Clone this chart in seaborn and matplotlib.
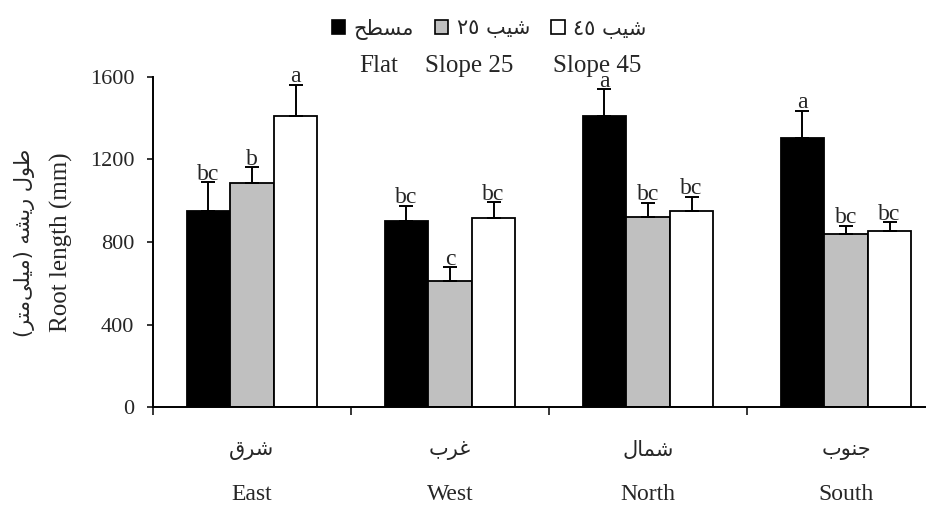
import re
import pandas as pd
import seaborn as sns
import matplotlib
matplotlib.use("Agg")
import matplotlib.pyplot as plt
from matplotlib.patches import Patch

# ---- data ----
directions_ar = ["شرق", "غرب", "شمال", "جنوب"]
directions_en = ["East", "West", "North", "South"]
treatments_ar = ["مسطح", "شیب ٢٥", "شیب ٤٥"]
treatments_en = ["Flat", "Slope 25", "Slope 45"]

flat_mean = [952, 903, 1411, 1306]
slope25_mean = [1088, 612, 923, 839]
slope45_mean = [1412, 916, 950, 853]
flat_err = [137, 72, 129, 128]
slope25_err = [74, 65, 67, 40]
slope45_err = [149, 76, 68, 42]
flat_letters = ["bc", "bc", "a", "a"]
slope25_letters = ["b", "c", "bc", "bc"]
slope45_letters = ["a", "bc", "bc", "bc"]

yticks = [0, 400, 800, 1200, 1600]
colors = ["#000000", "#C0C0C0", "#FFFFFF"]

# ---- minimal Arabic shaping (matplotlib has no bidi / joining) ----
AR_FORMS = {
    "ا": ("\uFE8D", "\uFE8E", None, None),
    "ب": ("\uFE8F", "\uFE90", "\uFE91", "\uFE92"),
    "ت": ("\uFE95", "\uFE96", "\uFE97", "\uFE98"),
    "ج": ("\uFE9D", "\uFE9E", "\uFE9F", "\uFEA0"),
    "ح": ("\uFEA1", "\uFEA2", "\uFEA3", "\uFEA4"),
    "ر": ("\uFEAD", "\uFEAE", None, None),
    "س": ("\uFEB1", "\uFEB2", "\uFEB3", "\uFEB4"),
    "ش": ("\uFEB5", "\uFEB6", "\uFEB7", "\uFEB8"),
    "ط": ("\uFEC1", "\uFEC2", "\uFEC3", "\uFEC4"),
    "غ": ("\uFECD", "\uFECE", "\uFECF", "\uFED0"),
    "ق": ("\uFED5", "\uFED6", "\uFED7", "\uFED8"),
    "ل": ("\uFEDD", "\uFEDE", "\uFEDF", "\uFEE0"),
    "م": ("\uFEE1", "\uFEE2", "\uFEE3", "\uFEE4"),
    "ن": ("\uFEE5", "\uFEE6", "\uFEE7", "\uFEE8"),
    "ه": ("\uFEE9", "\uFEEA", "\uFEEB", "\uFEEC"),
    "و": ("\uFEED", "\uFEEE", None, None),
    "ی": ("\uFBFC", "\uFBFD", "\uFBFE", "\uFBFF"),
}


def shape_ar(text):
    out = []
    for i, ch in enumerate(text):
        if ch not in AR_FORMS:
            if ch != "\u200c":
                out.append(ch)
            continue
        forms = AR_FORMS[ch]
        prev = text[i - 1] if i > 0 else ""
        nxt = text[i + 1] if i < len(text) - 1 else ""
        join_prev = prev in AR_FORMS and AR_FORMS[prev][2] is not None
        join_next = forms[2] is not None and nxt in AR_FORMS
        if join_prev and join_next:
            out.append(forms[3])
        elif join_prev:
            out.append(forms[1])
        elif join_next:
            out.append(forms[2])
        else:
            out.append(forms[0])
    vis = "".join(out)[::-1]
    vis = re.sub(r"[0-9\u0660-\u0669\u06F0-\u06F9]+", lambda m: m.group(0)[::-1], vis)
    return vis.translate(str.maketrans("()", ")("))


# ---- long table for seaborn ----
means = [flat_mean, slope25_mean, slope45_mean]
errs = [flat_err, slope25_err, slope45_err]
letters = [flat_letters, slope25_letters, slope45_letters]
rows = []
for t, vals in zip(treatments_en, means):
    for d, v in zip(directions_en, vals):
        rows.append({"direction": d, "treatment": t, "value": v})
df = pd.DataFrame(rows)

sns.set_style("white")
plt.rcParams["font.family"] = ["Liberation Serif", "DejaVu Sans"]
AR_FONT = "DejaVu Sans"

fig = plt.figure(figsize=(9.26, 5.07), dpi=100)
ax = fig.add_axes([153 / 926, 100 / 507, 792 / 926, 330 / 507])

sns.barplot(data=df, x="direction", y="value", hue="treatment",
            order=directions_en, hue_order=treatments_en, palette=colors,
            saturation=1, width=0.66, edgecolor="black", linewidth=1.3,
            errorbar=None, legend=False, ax=ax)

# one-sided error bars and significance letters
for cont, err, lets in zip(ax.containers, errs, letters):
    for bar, e, lt in zip(cont, err, lets):
        xc = bar.get_x() + bar.get_width() / 2
        top = bar.get_height()
        ax.errorbar(xc, top, yerr=[[0], [e]], fmt="none", ecolor="black",
                    elinewidth=1.4, capsize=5, capthick=1.4, zorder=3)
        ax.annotate(lt, (xc, top + e), xytext=(0, 2), textcoords="offset points",
                    ha="center", va="baseline", fontsize=17)

ax.set_xlim(-0.5, 3.5)
ax.set_ylim(0, 1600)
ax.set_yticks(yticks)
ax.tick_params(axis="y", labelsize=16, length=4.5, width=1.3, direction="out", pad=9, left=True)
ax.set_xticks(range(len(directions_en)))
ax.set_xticklabels([])
ax.tick_params(axis="x", which="major", length=0)
ax.set_xticks([-0.5, 0.5, 1.5, 2.5, 3.5], minor=True)
ax.tick_params(axis="x", which="minor", length=6, width=1.3, direction="out", bottom=True)
ax.set_xlabel("")
ax.set_ylabel("Root length (mm)", fontsize=18, labelpad=12)
for side in ["top", "right"]:
    ax.spines[side].set_visible(False)
for side in ["left", "bottom"]:
    ax.spines[side].set_linewidth(1.4)
    ax.spines[side].set_color("black")

# category labels (Persian above, English below)
trans = ax.get_xaxis_transform()
for i, (a, e) in enumerate(zip(directions_ar, directions_en)):
    ax.text(i, -0.13, shape_ar(a), transform=trans, ha="center", va="center",
            fontsize=15, family=AR_FONT)
    ax.text(i, -0.265, e, transform=trans, ha="center", va="center", fontsize=17)

# Persian y label
fig.text(25 / 926, 1 - 243 / 507, shape_ar("طول ریشه (میلی\u200cمتر)"), rotation=90,
         ha="center", va="center", fontsize=15, family=AR_FONT)

# legend: Persian labels with swatches, English names underneath
handles = [Patch(facecolor=c, edgecolor="black", linewidth=1.2) for c in colors]
fig.legend(handles, [shape_ar(t) for t in treatments_ar], loc="center",
           bbox_to_anchor=(489 / 926, 1 - 29 / 507), ncol=3, frameon=False,
           prop={"family": AR_FONT, "size": 15}, handlelength=0.65, handleheight=0.65,
           handletextpad=0.4, columnspacing=1.0, borderpad=0)
for x, t in zip([379, 469, 597], treatments_en):
    fig.text(x / 926, 1 - 72 / 507, t, ha="center", va="baseline", fontsize=18)

fig.savefig("out.png", dpi=100)
